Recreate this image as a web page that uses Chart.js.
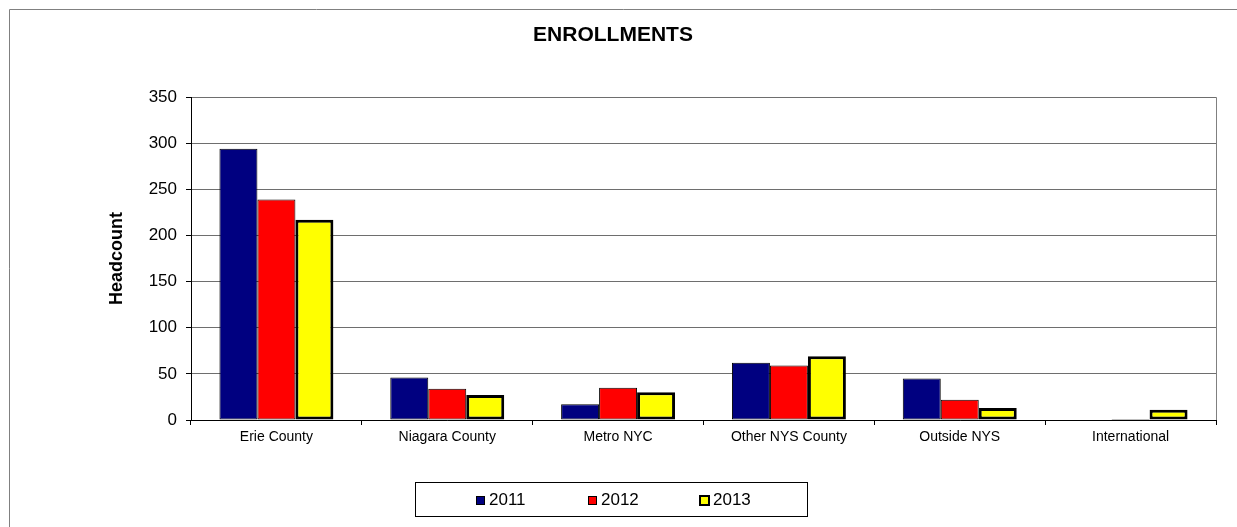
<!DOCTYPE html>
<html>
<head>
<meta charset="utf-8">
<script src="https://cdn.jsdelivr.net/npm/chart.js@4.4.1/dist/chart.umd.min.js"></script>
<style>
  html, body { margin: 0; padding: 0; background: #fff; }
  #wrap { width: 1237px; height: 527px; }
</style>
</head>
<body>
<div id="wrap"><canvas id="enrollChart" width="1237" height="527"></canvas></div>
<script>
/* --------------- Data --------------------- */
const categories = ["Erie County", "Niagara County", "Metro NYC", "Other NYS County", "Outside NYS", "International"];
const years = ["2011", "2012", "2013"];
const values2011 = [294, 46, 17, 62, 45, 0];
const values2012 = [239, 34, 35, 59, 22, 1];
const values2013 = [217, 27, 30, 69, 13, 11];
const yTicks = [0, 50, 100, 150, 200, 250, 300, 350];

const FONT = "'Liberation Sans', Arial, Helvetica, sans-serif";

/* --------------- Frame, plot edge and legend box --------------------- */
const excelLook = {
  id: "excelLook",
  beforeDraw(chart) {
    const ctx = chart.ctx;
    ctx.save();
    ctx.fillStyle = "#fff";
    ctx.fillRect(0, 0, chart.width, chart.height);
    ctx.strokeStyle = "#808080";
    ctx.lineWidth = 1;
    ctx.beginPath();
    ctx.moveTo(9.5, chart.height + 5);
    ctx.lineTo(9.5, 9.5);
    ctx.lineTo(chart.width + 5, 9.5);
    ctx.stroke();
    ctx.restore();
  },
  afterDraw(chart) {
    const ctx = chart.ctx;
    const area = chart.chartArea;
    ctx.save();
    // right edge of the plot area
    ctx.strokeStyle = "#808080";
    ctx.lineWidth = 1;
    ctx.beginPath();
    ctx.moveTo(Math.round(area.right) + 0.5, area.top);
    ctx.lineTo(Math.round(area.right) + 0.5, area.bottom);
    ctx.stroke();

    // legend box
    ctx.strokeStyle = "#000";
    ctx.strokeRect(415.5, 482.5, 392, 34);
    ctx.font = "17px " + FONT;
    ctx.textBaseline = "middle";
    ctx.textAlign = "left";
    chart.data.datasets.forEach((ds, i) => {
      const x = Math.round(476 + i * 111.8);
      const y = 496;
      ctx.fillStyle = ds.backgroundColor;
      ctx.fillRect(x, y, 9, 9);
      ctx.strokeStyle = "#000";
      if (ds.borderWidth > 1) {
        ctx.lineWidth = 2;
        ctx.strokeRect(x, y, 9, 9);
      } else {
        ctx.lineWidth = 1;
        ctx.strokeRect(x + 0.5, y + 0.5, 8, 8);
      }
      ctx.fillStyle = "#000";
      ctx.fillText(ds.label, x + 13, 500.5);
    });
    ctx.restore();
  },
};

/* --------------- Chart --------------------- */
const enrollChart = new Chart(document.getElementById("enrollChart"), {
  type: "bar",
  plugins: [excelLook],
  data: {
    labels: categories,
    datasets: [
      { label: years[0], data: values2011, backgroundColor: "#000080", borderColor: "#000", borderWidth: 1, borderSkipped: false },
      { label: years[1], data: values2012, backgroundColor: "#FF0000", borderColor: "#000", borderWidth: 1, borderSkipped: false },
      { label: years[2], data: values2013, backgroundColor: "#FFFF00", borderColor: "#000", borderWidth: 3, borderSkipped: false },
    ],
  },
  options: {
    responsive: false,
    animation: false,
    layout: { padding: { left: 10, right: 21, top: 0, bottom: 0 } },
    datasets: { bar: { barPercentage: 1, categoryPercentage: 0.667 } },
    plugins: {
      legend: { display: false },
      tooltip: { enabled: false },
      title: {
        display: true,
        text: "ENROLLMENTS",
        color: "#000",
        font: { family: FONT, size: 21, weight: "bold", lineHeight: 1.2 },
        padding: { top: 23, bottom: 49 },
      },
    },
    scales: {
      x: {
        grid: { display: true, drawOnChartArea: false, offset: true, color: "#000", tickLength: 5, tickColor: "#000" },
        border: { color: "#000", width: 1 },
        ticks: { color: "#000", font: { family: FONT, size: 14 }, padding: 4, maxRotation: 0, autoSkip: false },
        afterFit(scale) { scale.height = 107; },
      },
      y: {
        min: 0,
        max: 350,
        afterBuildTicks(scale) { scale.ticks = yTicks.map((v) => ({ value: v })); },
        grid: { color: "#6e6e6e", tickLength: 5, tickColor: "#000", drawTicks: true },
        border: { color: "#000", width: 1 },
        ticks: { color: "#000", font: { family: FONT, size: 17 }, padding: 9 },
        title: {
          display: true,
          text: "Headcount",
          color: "#000",
          font: { family: FONT, size: 18, weight: "bold" },
          padding: { top: 96, bottom: 0 },
        },
        afterFit(scale) { scale.width = 181; },
      },
    },
  },
});
</script>
</body>
</html>
